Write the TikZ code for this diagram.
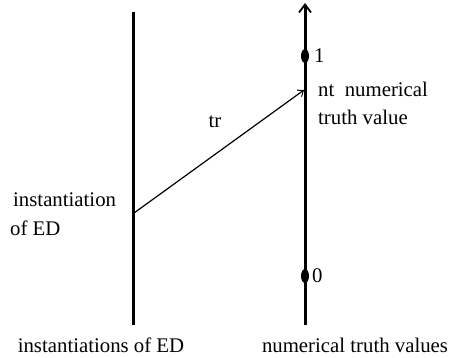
\documentclass[tikz,border=0pt]{standalone}
\usepackage{fontspec}
\setmainfont{Liberation Serif}
\usetikzlibrary{arrows.meta,shapes.geometric}
\begin{document}
\begin{tikzpicture}[x=1pt,y=-1pt,
  axis/.style={line width=3pt},
  lbl/.style={inner sep=0pt,font=\fontsize{20.8}{24}\selectfont},
  dot/.style={ellipse,fill=black,minimum width=8pt,minimum height=14pt,inner sep=0pt}]
\useasboundingbox (0,0) rectangle (455,357);
\coordinate (Ltop) at (133,12);
\coordinate (Lbot) at (133,325);
\coordinate (Rtop) at (305,3);
\coordinate (Rbot) at (305,325);
\coordinate (src) at (134,213);
\coordinate (tgt) at (304,90);
\draw[axis] (Ltop) -- (Lbot);
\draw[axis,-{Straight Barb[length=8pt,width=12pt,line width=1.8pt]}] (Rbot) -- (Rtop);
\node[dot] (one) at (305,56) {};
\node[dot] (zero) at (305,276) {};
\draw[line width=1.2pt,-{Straight Barb[length=5pt,width=8pt,line width=1pt]}] (src) -- (tgt);
\node[lbl,anchor=west] (l1) at (314,56) {1};
\node[lbl,anchor=west] (l0) at (312,276) {0};
\node[lbl] (tr) at (215,122) {tr};
\node[lbl,anchor=west] (nt) at (318,89) {nt\ \ numerical};
\node[lbl,anchor=west] (tv) at (318,117) {truth value};
\node[lbl,anchor=west] (inst) at (13,200) {instantiation};
\node[lbl,anchor=west] (ofed) at (10,228) {of ED};
\node[lbl] (bl) at (101,345) {instantiations of ED};
\node[lbl] (br) at (355,345) {numerical truth values};
\end{tikzpicture}
\end{document}
